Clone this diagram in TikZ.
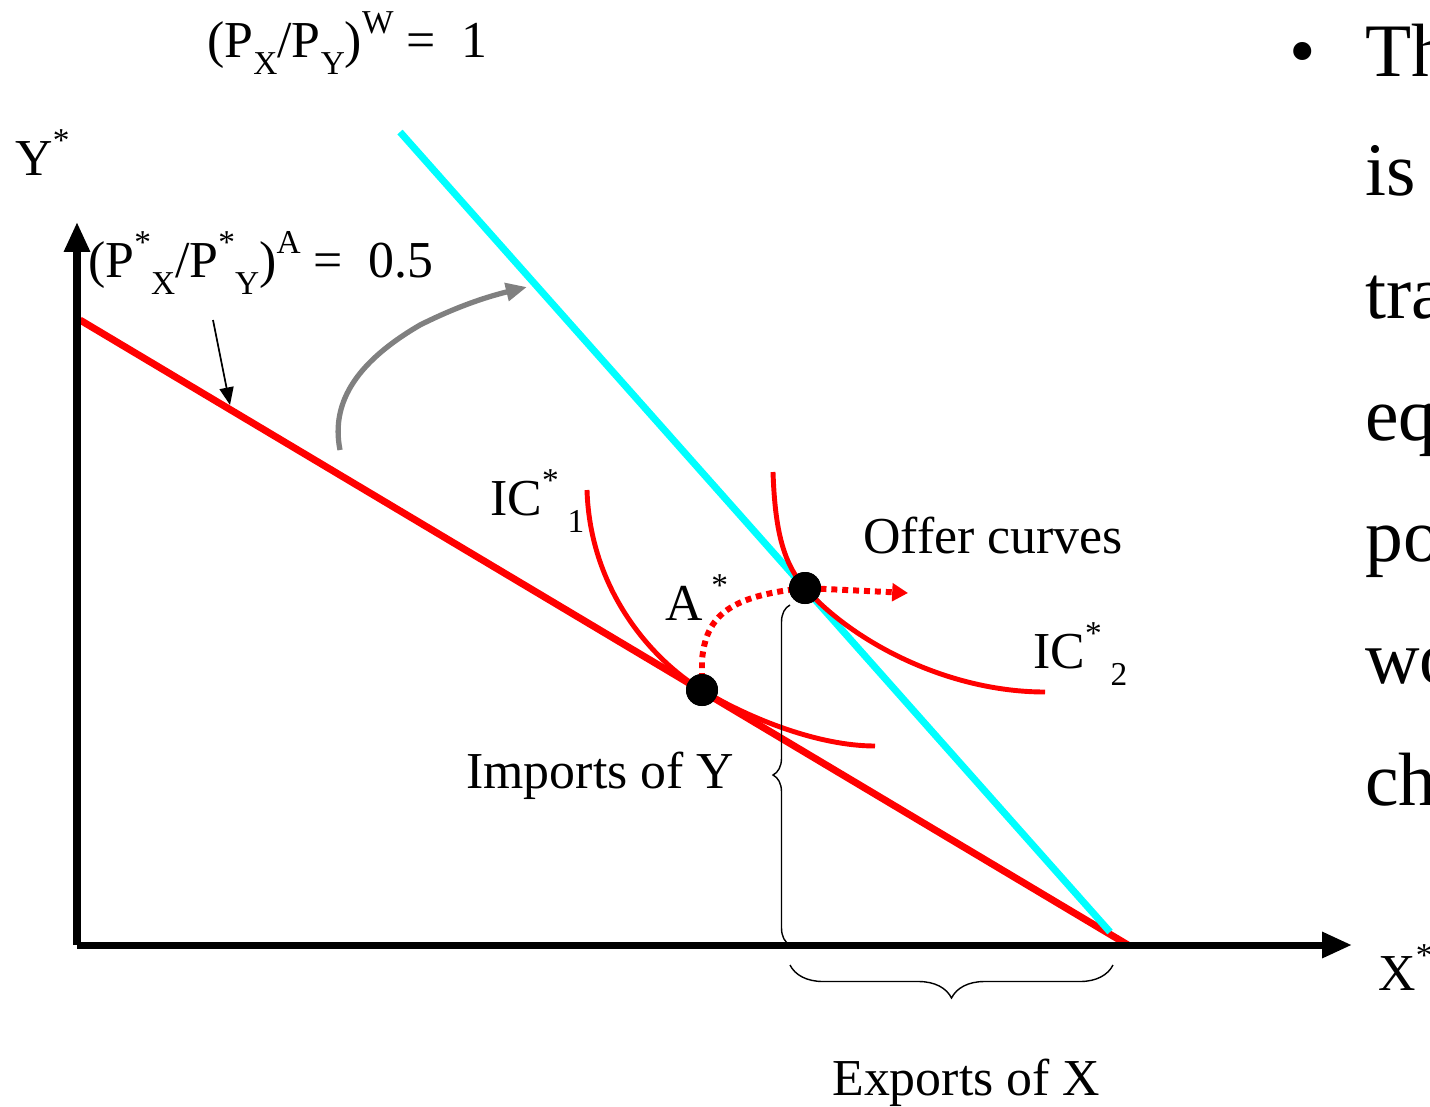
\documentclass[tikz,border=0pt]{standalone}
\usepackage{fontspec}
\setmainfont{Liberation Serif}
\definecolor{autred}{RGB}{255,0,0}
\definecolor{wldcyan}{RGB}{0,255,255}
\definecolor{shiftgray}{RGB}{128,128,128}
\usetikzlibrary{arrows.meta,decorations.pathreplacing,calc}
\newcommand\supx[1]{\raisebox{0.46em}{\fontsize{19}{19}\selectfont #1}}
\newcommand\subx[1]{\raisebox{-0.33em}{\fontsize{19}{19}\selectfont #1}}

\begin{document}
\begin{tikzpicture}[x=0.02cm, y=-0.02cm,
  lbl/.style={anchor=base west, inner sep=0pt, font=\fontsize{29.5}{36}\selectfont},
  sideline/.style={anchor=base west, inner sep=0pt, font=\fontsize{43}{52}\selectfont},
  axisline/.style={line width=4pt, -{Triangle[length=17pt, width=14pt]}},
  budget/.style={line width=4pt, autred},
  worldline/.style={line width=4pt, wldcyan},
  indiff/.style={line width=2.8pt, autred},
  offer/.style={line width=3.4pt, autred, dash pattern=on 3.4pt off 2.8pt, -{Triangle[length=9pt, width=10pt]}},
  eqdot/.style={circle, fill=black, minimum size=0.64cm, inner sep=0pt},
  bracket/.style={line width=0.8pt, decorate}]
  \useasboundingbox (0,0) rectangle (1430,1106);
  % frame of the picture
  \coordinate (O) at (77,945);
  \coordinate (ytop) at (77,222);
  \coordinate (xend) at (1352,945);
  \coordinate (aut0) at (80,320);
  \coordinate (aut1) at (1128,945);
  \coordinate (wld0) at (400,132);
  \coordinate (wld1) at (1110,932);
  % price lines
  \draw[budget] (aut0) -- (aut1);
  \draw[worldline] (wld0) -- (wld1);
  % points
  \node[eqdot] (astar) at (702,690) {};
  \node[eqdot] (trade) at (805,588) {};
  % indifference curves
  \draw[indiff] (587,490) .. controls (590,590) and (652,660) .. (astar.center)
    .. controls (752,720) and (820,746) .. (875,746);
  \draw[indiff] (773,472) .. controls (775,530) and (783,563) .. (trade.center)
    .. controls (855,644) and (950,692) .. (1045,692);
  % offer curve
  \coordinate (offtip) at (908,593);
  \draw[offer] (astar.center) -- ++(0,-30) .. controls (706,615) and (730,596) .. (trade.center) -- (offtip);
  \node[eqdot] at (astar) {};
  \node[eqdot] at (trade) {};
  % axes
  \draw[axisline] (O) -- (ytop);
  \draw[axisline] (O) -- (xend);
  % rotation of the price line
  \coordinate (rot0) at (340,450);
  \coordinate (rot1) at (527,287);
  \draw[line width=3pt, shiftgray, -{Triangle[length=12pt, width=10pt]}] (rot0) .. controls (330,400) and (360,360) .. (420,325) .. controls (460,305) and (490,296) .. (rot1);
  % labels
  \node[lbl] (ylab) at (15,175) {Y\supx{*}};
  \node[lbl] (xlab) at (1378,990) {X\supx{*}};
  \node[lbl] (wprice) at (207,57) {(P\subx{X}/P\subx{Y})\supx{W} = ~1};
  \node[lbl] (aprice) at (88,277) {(P\supx{*}\subx{X}/P\supx{*}\subx{Y})\supx{A} = ~0.5};
  \coordinate (aptr) at (213,320);
  \coordinate (aline) at (230,405);
  \draw[line width=1pt, -{Triangle[length=10pt, width=8pt]}] (aptr) -- (aline);
  \node[lbl] (ic1) at (490,515) {IC\supx{*}\,\subx{1}};
  \node[lbl] (alab) at (665,620) {A\,\supx{*}};
  \node[lbl] (offlab) at (863,553) {Offer curves};
  \node[lbl] (ic2) at (1033,668) {IC\supx{*}\,\subx{2}};
  \node[lbl] (imp) at (466,788) {Imports of Y};
  \node[lbl] (exp) at (832,1095) {Exports of X};
  % braces
  \draw[bracket, decoration={brace, amplitude=0.34cm}] (790,945) -- (790,605);
  \draw[bracket, decoration={brace, amplitude=0.66cm}] (1113,965) -- (790,965);
  % side text
  \node[sideline] (bul) at (1289,76) {\textbullet};
  \foreach \frag/\yy [count=\i] in {Th/76, is/195, tra/318, eq/440, po/561, wo/683, ch/805}
    \node[sideline] (side\i) at (1365,\yy) {\frag};
\end{tikzpicture}
\end{document}
